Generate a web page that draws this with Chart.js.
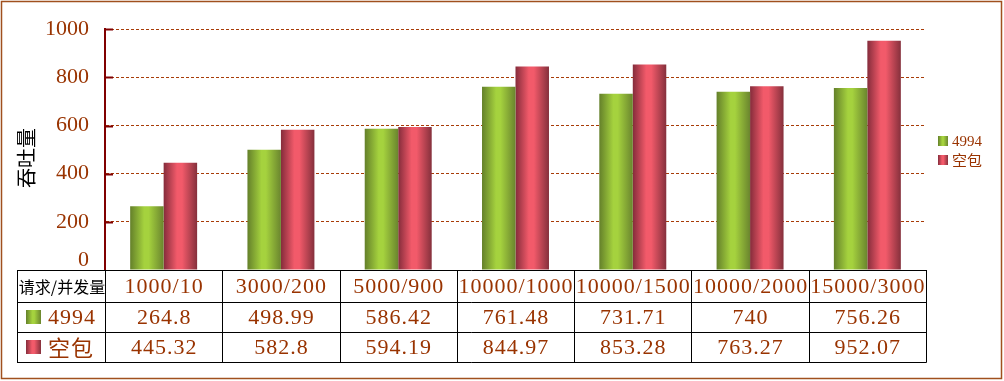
<!DOCTYPE html>
<html><head><meta charset="utf-8">
<script src="https://cdn.jsdelivr.net/npm/chart.js@4.4.0/dist/chart.umd.min.js"></script>
<style>html,body{margin:0;padding:0;background:#fff;overflow:hidden}canvas{display:block}</style>
</head><body>
<canvas id="c" width="1004" height="381"></canvas>
<script>
const categories = ['1000/10','3000/200','5000/900','10000/1000','10000/1500','10000/2000','15000/3000'];
const series1Name = '4994';
const series1 = [264.8, 498.99, 586.42, 761.48, 731.71, 740, 756.26];
const series2Name = '空包';
const series2 = [445.32, 582.8, 594.19, 844.97, 853.28, 763.27, 952.07];
const yTicks = [0, 200, 400, 600, 800, 1000];
const axisTitle = '吞吐量';
const tableHeader = '请求/并发量';

const BROWN = '#993300';
const GRID = '#a83c08';
const SERIF = '"Liberation Serif", "DejaVu Serif", serif';
const CJK = '"Noto Sans CJK SC", sans-serif';
const greenStops = [[0,'#64802a'],[0.42,'#a5d23e'],[0.55,'#a5d23e'],[1,'#6a852e']];
const redStops = [[0,'#852c3b'],[0.4,'#f25a6a'],[0.55,'#f25a6a'],[1,'#85303c']];
const CAT_PCT = 0.571;

function makeGrad(ctx, x0, w, stops) {
  const g = ctx.createLinearGradient(x0, 0, x0 + w, 0);
  stops.forEach(s => g.addColorStop(s[0], s[1]));
  return g;
}
function barFill(stops) {
  return function(c) {
    const chart = c.chart, xs = chart.scales && chart.scales.x;
    if (c.type !== 'data' || !xs || !xs.width) return stops[1][1];
    const cw = xs.width / categories.length;
    const group = cw * CAT_PCT, bw = group / 2;
    const left = xs.getPixelForValue(c.dataIndex) - group / 2 + c.datasetIndex * bw;
    return makeGrad(chart.ctx, left, bw, stops);
  };
}

const extras = {
  id: 'extras',
  afterDraw(chart) {
    const {ctx, chartArea: a, scales: {x, y}} = chart;
    const n = categories.length;
    const cw = x.width / n;
    ctx.save();
    // inner tick marks on y axis
    ctx.strokeStyle = '#800000'; ctx.lineWidth = 2;
    yTicks.forEach(v => {
      if (v === 0) return;
      const py = Math.round(y.getPixelForValue(v)) + 0.5;
      ctx.beginPath(); ctx.moveTo(a.left, py); ctx.lineTo(a.left + 8, py); ctx.stroke();
    });
    // axis title
    ctx.fillStyle = '#000';
    ctx.font = '20px ' + CJK;
    ctx.textAlign = 'center'; ctx.textBaseline = 'middle';
    ctx.save(); ctx.translate(26, 158); ctx.rotate(-Math.PI / 2);
    ctx.fillText(axisTitle, 0, 0); ctx.restore();

    // data table
    const tLeft = 17, top = a.bottom;
    const rowsY = [top, top + 32, top + 62, top + 92];
    const colsX = [tLeft];
    for (let i = 0; i < n; i++) colsX.push(x.getPixelForValue(i) - cw / 2);
    colsX.push(a.right);
    ctx.strokeStyle = '#000'; ctx.lineWidth = 1;
    rowsY.forEach(ry => {
      const yy = Math.round(ry) + 0.5;
      ctx.beginPath(); ctx.moveTo(tLeft, yy); ctx.lineTo(a.right + 0.5, yy); ctx.stroke();
    });
    colsX.forEach(cx => {
      const xx = Math.round(cx) + 0.5;
      ctx.beginPath(); ctx.moveTo(xx, rowsY[0]); ctx.lineTo(xx, rowsY[3] + 0.5); ctx.stroke();
    });
    // header
    ctx.fillStyle = '#000'; ctx.font = '16px ' + CJK; ctx.textAlign = 'center';
    ctx.fillText(tableHeader, (tLeft + a.left) / 2 + 1, (rowsY[0] + rowsY[1]) / 2 + 1);
    ctx.fillStyle = BROWN; ctx.font = '22px ' + SERIF;
    ctx.letterSpacing = '1px';
    categories.forEach((c, i) => ctx.fillText(c, x.getPixelForValue(i) + 0.5, (rowsY[0] + rowsY[1]) / 2 + 1));
    [series1, series2].forEach((s, r) => {
      const cy = (rowsY[r + 1] + rowsY[r + 2]) / 2 + 1;
      s.forEach((v, i) => ctx.fillText(String(v), x.getPixelForValue(i) + 0.5, cy));
    });
    // row labels
    const names = [series1Name, series2Name];
    [greenStops, redStops].forEach((st, r) => {
      const cy = (rowsY[r + 1] + rowsY[r + 2]) / 2;
      ctx.fillStyle = makeGrad(ctx, 26, 15, st);
      ctx.fillRect(26, Math.round(cy - 7), 15, 14);
      ctx.fillStyle = BROWN; ctx.textAlign = 'left';
      ctx.font = '22px ' + (r === 0 ? SERIF : CJK);
      ctx.fillText(names[r], 48, cy + 1);
    });
    ctx.letterSpacing = '0px';
    // legend
    [greenStops, redStops].forEach((st, r) => {
      const cy = 141 + r * 18.5;
      ctx.fillStyle = makeGrad(ctx, 938, 10, st);
      ctx.fillRect(938, Math.round(cy - 5), 10, 10);
      ctx.fillStyle = BROWN; ctx.textAlign = 'left';
      ctx.font = '15px ' + (r === 0 ? SERIF : CJK);
      ctx.fillText(names[r], 952, cy + 1);
    });
    // outer border
    ctx.strokeStyle = '#a0501e'; ctx.lineWidth = 1.5;
    ctx.strokeRect(1.5, 1.5, 1000, 377);
    ctx.restore();
  }
};

new Chart(document.getElementById('c'), {
  type: 'bar',
  data: {
    labels: categories,
    datasets: [
      { label: series1Name, data: series1, backgroundColor: barFill(greenStops), borderWidth: 0 },
      { label: series2Name, data: series2, backgroundColor: barFill(redStops), borderWidth: 0 }
    ]
  },
  options: {
    responsive: false,
    devicePixelRatio: 1,
    animation: false,
    layout: { padding: { left: 0, top: 28, right: 78, bottom: 111 } },
    plugins: { legend: { display: false }, tooltip: { enabled: false } },
    datasets: { bar: { categoryPercentage: CAT_PCT, barPercentage: 1 } },
    scales: {
      x: { display: false },
      y: {
        min: 0, max: 1000,
        afterBuildTicks: s => { s.ticks = yTicks.map(v => ({ value: v })); },
        afterFit: s => { s.width = 105; },
        ticks: {
          padding: 16,
          color: BROWN,
          font: c => ({ family: SERIF, size: 22, lineHeight: c.tick && c.tick.value === 0 ? 0.9 : 1.2 }),
          callback: v => v === 0 ? ['0', ''] : String(v)
        },
        grid: {
          drawTicks: false,
          lineWidth: 1,
          color: c => (c.tick && c.tick.value === 0) ? 'rgba(0,0,0,0)' : GRID
        },
        border: { display: true, color: '#800000', width: 2, dash: [3, 2] }
      }
    }
  },
  plugins: [extras]
});
</script>
</body></html>
